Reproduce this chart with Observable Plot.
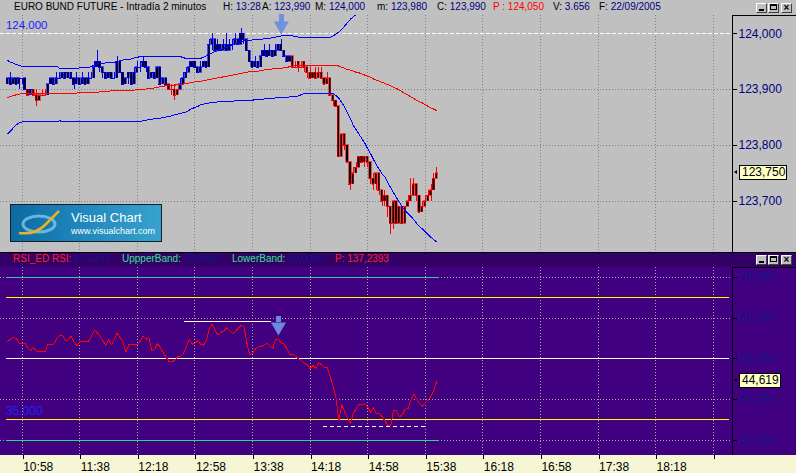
<!DOCTYPE html>
<html>
<head>
<meta charset="utf-8">
<script src="https://cdn.jsdelivr.net/npm/d3@7"></script>
<script src="https://cdn.jsdelivr.net/npm/@observablehq/plot@0.6"></script>
<style>
html,body{margin:0;padding:0;background:#c0c0c0;}
#root{position:relative;width:796px;height:473px;overflow:hidden;background:#c0c0c0;font-family:"Liberation Sans",Arial,sans-serif;}
.a{position:absolute;}
.t{position:absolute;font-size:10px;line-height:10px;white-space:pre;}
.btn{position:absolute;width:11px;height:10px;box-sizing:border-box;background:#c0c0c0;border:1px solid;border-color:#ffffff #404040 #404040 #ffffff;}
.btn .mn{position:absolute;left:2px;top:5px;width:5px;height:2px;background:#000;}
.btn .mx{position:absolute;left:1px;top:0px;width:7px;height:6px;box-sizing:border-box;border:1px solid #000;border-top-width:2px;}
.btn .cl{position:absolute;left:0;top:-1px;width:9px;text-align:center;font:bold 10px/9px "Liberation Sans",Arial,sans-serif;color:#000;}
.vbox{position:absolute;left:739px;height:15px;box-sizing:border-box;border:1px solid #000;background:#ffffc8;font-size:12px;line-height:13px;padding:0 2px;color:#000;white-space:nowrap;}
.varr{position:absolute;left:734px;width:0;height:0;border-top:2.5px solid transparent;border-bottom:2.5px solid transparent;border-right:3px solid #000;}
</style>
</head>
<body>
<div id="root">
  <div class="a" id="topWrap" style="left:0;top:0;"></div>
  <div class="a" style="left:732px;top:15px;width:64px;height:237px;box-sizing:border-box;border-left:1px solid #000;border-top:1px solid #000;"></div>
  <div class="a" style="left:0;top:252px;width:796px;height:1px;background:#000;"></div>
  <div class="a" style="left:0;top:253px;width:796px;height:14px;background:#330068;"></div>
  <div class="a" style="left:0;top:267px;width:796px;height:188px;background:#400080;"></div>
  <div class="a" style="left:0;top:455px;width:796px;height:18px;background:#f6f6d4;"></div>
  <div class="a" style="left:732px;top:267px;width:64px;height:188px;box-sizing:border-box;border-left:1px solid #000;border-top:1px solid #000;"></div>
  <div class="a" id="rsiWrap" style="left:0;top:267px;"></div>
  <div class="btn" style="left:756px;top:3px;"><div class="mn"></div></div>
  <div class="btn" style="left:768px;top:3px;"><div class="mx"></div></div>
  <div class="btn" style="left:781px;top:3px;"><div class="cl">×</div></div>
  <div class="btn" style="left:756px;top:255px;"><div class="mn"></div></div>
  <div class="btn" style="left:768px;top:255px;"><div class="mx"></div></div>
  <div class="btn" style="left:781px;top:255px;"><div class="cl">×</div></div>
  <div class="a" style="left:10px;top:204px;width:152px;height:38px;box-sizing:border-box;border:1px solid #10202a;background:linear-gradient(90deg,#0c6aa2 0%,#1f86bc 45%,#37a2cc 100%);">
    <svg width="60" height="36" style="position:absolute;left:0;top:0;">
      <ellipse cx="28" cy="19" rx="16" ry="8" fill="none" stroke="#7cc8ee" stroke-width="3" opacity="0.8"/>
      <path d="M8 28 Q 24 30 34 20 T 48 6" fill="none" stroke="#f0b020" stroke-width="2.5"/>
    </svg>
    <div class="a" style="left:60px;top:6px;color:#fff;font-size:13px;line-height:13px;white-space:nowrap;">Visual Chart</div>
    <div class="a" style="left:60px;top:22px;color:#fff;font-size:9px;line-height:9px;white-space:nowrap;">www.visualchart.com</div>
  </div>
</div>
<script>
// ---------------- DATA ----------------
const times = [
"10:48","10:50","10:52","10:54","10:56","10:58",
"11:00","11:02","11:04","11:06","11:08","11:10","11:12","11:14","11:16","11:18","11:20","11:22","11:24","11:26","11:28","11:30","11:32","11:34","11:36","11:38","11:40","11:42","11:44","11:46","11:48","11:50","11:52","11:54","11:56","11:58",
"12:00","12:02","12:04","12:06","12:08","12:10","12:12","12:14","12:16","12:18","12:20","12:22","12:24","12:26","12:28","12:30","12:32","12:34","12:36","12:38","12:40","12:42","12:44","12:46","12:48","12:50","12:52","12:54","12:56","12:58",
"13:00","13:02","13:04","13:06","13:08","13:10","13:12","13:14","13:16","13:18","13:20","13:22","13:24","13:26","13:28","13:30","13:32","13:34","13:36","13:38","13:40","13:42","13:44","13:46","13:48","13:50","13:52","13:54","13:56","13:58",
"14:00","14:02","14:04","14:06","14:08","14:10","14:12","14:14","14:16","14:18","14:20","14:22","14:24","14:26","14:28","14:30","14:32","14:34","14:36","14:38","14:40","14:42","14:44","14:46","14:48","14:50","14:52","14:54","14:56","14:58",
"15:00","15:02","15:04","15:06","15:08","15:10","15:12","15:14","15:16","15:18","15:20","15:22","15:24","15:26","15:28","15:30","15:32","15:34","15:36","15:38","15:40","15:42","15:44","15:46"];

const opens = [
123.91,123.92,123.91,123.92,123.91,123.92,123.92,123.90,123.89,123.90,
123.89,123.88,123.89,123.89,123.89,123.91,123.92,123.91,123.92,123.92,
123.93,123.92,123.93,123.92,123.91,123.92,123.91,123.92,123.91,123.92,
123.92,123.94,123.95,123.94,123.93,123.92,123.93,123.92,123.92,123.95,
123.93,123.91,123.92,123.93,123.91,123.93,123.94,123.94,123.95,123.94,
123.92,123.93,123.92,123.94,123.91,123.92,123.91,123.90,123.90,123.89,
123.90,123.91,123.92,123.93,123.94,123.95,123.94,123.93,123.94,123.95,
123.94,123.98,123.99,123.97,123.98,123.97,123.98,123.97,123.98,123.98,
123.99,123.98,124.00,123.99,123.97,123.95,123.94,123.95,123.94,123.96,
123.97,123.96,123.97,123.96,123.97,123.98,123.97,123.96,123.95,123.96,
123.94,123.95,123.94,123.95,123.94,123.93,123.92,123.93,123.92,123.93,
123.92,123.91,123.92,123.89,123.88,123.87,123.78,123.82,123.80,123.77,
123.73,123.75,123.76,123.78,123.77,123.78,123.77,123.74,123.73,123.75,
123.72,123.70,123.71,123.69,123.66,123.70,123.66,123.69,123.66,123.69,
123.70,123.71,123.73,123.71,123.68,123.69,123.70,123.71,123.72,123.74];

const highs = [
123.92,123.93,123.92,123.92,123.92,123.92,123.92,123.90,123.90,123.90,
123.90,123.89,123.90,123.90,123.91,123.92,123.92,123.93,123.93,123.93,
123.93,123.93,123.93,123.92,123.93,123.92,123.93,123.92,123.93,123.93,
123.95,123.97,123.95,123.94,123.93,123.93,123.93,123.93,123.96,123.95,
123.93,123.92,123.93,123.93,123.94,123.95,123.95,123.96,123.95,123.94,
123.93,123.93,123.94,123.94,123.92,123.92,123.91,123.91,123.91,123.90,
123.92,123.93,123.94,123.95,123.95,123.95,123.94,123.95,123.95,123.95,
123.99,124.00,123.99,123.99,123.98,123.99,124.00,123.99,123.99,124.00,
123.99,124.01,124.00,123.99,123.97,123.95,123.96,123.95,123.97,123.98,
123.97,123.98,123.97,123.98,123.98,123.99,123.97,123.96,123.96,123.96,
123.95,123.95,123.95,123.95,123.94,123.94,123.93,123.94,123.94,123.94,
123.92,123.93,123.92,123.89,123.88,123.87,123.82,123.82,123.80,123.77,
123.76,123.77,123.78,123.78,123.78,123.78,123.77,123.75,123.75,123.75,
123.72,123.72,123.71,123.69,123.70,123.70,123.69,123.69,123.69,123.71,
123.74,123.74,123.73,123.71,123.70,123.71,123.72,123.73,123.75,123.76];

const lows = [
123.91,123.91,123.91,123.91,123.90,123.91,123.90,123.89,123.89,123.89,
123.87,123.88,123.89,123.89,123.89,123.91,123.91,123.91,123.92,123.92,
123.92,123.92,123.92,123.90,123.91,123.91,123.91,123.91,123.91,123.92,
123.92,123.94,123.93,123.92,123.92,123.92,123.92,123.92,123.92,123.93,
123.91,123.91,123.91,123.91,123.91,123.93,123.93,123.94,123.93,123.92,
123.92,123.92,123.92,123.91,123.91,123.91,123.90,123.89,123.88,123.89,
123.90,123.91,123.92,123.93,123.94,123.94,123.93,123.93,123.94,123.94,
123.94,123.97,123.97,123.97,123.97,123.97,123.97,123.97,123.97,123.98,
123.98,123.98,123.98,123.97,123.95,123.94,123.94,123.94,123.94,123.96,
123.96,123.96,123.96,123.96,123.97,123.97,123.96,123.95,123.95,123.94,
123.94,123.93,123.94,123.93,123.92,123.92,123.92,123.92,123.92,123.92,
123.91,123.91,123.89,123.87,123.87,123.78,123.78,123.79,123.77,123.72,
123.73,123.75,123.76,123.77,123.76,123.76,123.73,123.72,123.72,123.71,
123.69,123.69,123.67,123.64,123.65,123.66,123.66,123.66,123.66,123.69,
123.70,123.71,123.70,123.68,123.68,123.69,123.70,123.70,123.72,123.74];

const closes = [
123.92,123.91,123.92,123.91,123.92,123.92,123.90,123.89,123.90,123.89,
123.88,123.89,123.89,123.89,123.91,123.92,123.91,123.92,123.92,123.93,
123.92,123.93,123.92,123.91,123.92,123.91,123.92,123.91,123.92,123.92,
123.94,123.95,123.94,123.93,123.92,123.93,123.92,123.92,123.95,123.93,
123.91,123.92,123.93,123.91,123.93,123.94,123.94,123.95,123.94,123.92,
123.93,123.92,123.94,123.91,123.92,123.91,123.90,123.90,123.89,123.90,
123.91,123.92,123.93,123.94,123.95,123.94,123.93,123.94,123.95,123.94,
123.98,123.99,123.97,123.98,123.97,123.98,123.97,123.98,123.98,123.99,
123.98,124.00,123.99,123.97,123.95,123.94,123.95,123.94,123.96,123.97,
123.96,123.97,123.96,123.97,123.98,123.97,123.96,123.95,123.96,123.94,
123.94,123.94,123.94,123.94,123.93,123.92,123.93,123.92,123.93,123.92,
123.91,123.92,123.89,123.88,123.87,123.78,123.82,123.80,123.77,123.73,
123.75,123.76,123.78,123.77,123.78,123.77,123.74,123.73,123.75,123.72,
123.70,123.71,123.69,123.66,123.70,123.66,123.69,123.66,123.69,123.70,
123.71,123.73,123.71,123.68,123.69,123.70,123.71,123.72,123.74,123.75];

const movingAverage = [
123.886,123.888,123.889,123.891,123.892,123.893,123.893,123.893,123.893,123.893,
123.893,123.893,123.893,123.893,123.893,123.893,123.893,123.893,123.893,123.893,
123.893,123.893,123.893,123.893,123.894,123.894,123.894,123.894,123.894,123.895,
123.895,123.895,123.896,123.896,123.897,123.897,123.898,123.898,123.899,123.899,
123.899,123.899,123.899,123.899,123.899,123.900,123.900,123.901,123.901,123.902,
123.902,123.903,123.904,123.905,123.906,123.907,123.907,123.908,123.908,123.909,
123.909,123.910,123.911,123.912,123.913,123.914,123.914,123.915,123.916,123.917,
123.918,123.919,123.920,123.921,123.922,123.923,123.924,123.925,123.926,123.927,
123.928,123.929,123.930,123.931,123.932,123.932,123.933,123.933,123.934,123.935,
123.936,123.936,123.937,123.937,123.938,123.938,123.939,123.940,123.941,123.942,
123.943,123.944,123.944,123.944,123.944,123.944,123.944,123.944,123.944,123.944,
123.944,123.944,123.944,123.944,123.944,123.942,123.940,123.938,123.936,123.935,
123.933,123.931,123.930,123.928,123.926,123.924,123.922,123.919,123.917,123.915,
123.913,123.911,123.909,123.907,123.904,123.902,123.899,123.896,123.893,123.890,
123.887,123.884,123.881,123.878,123.876,123.873,123.870,123.867,123.865,123.862];

const upperBand = [
123.952,123.949,123.947,123.945,123.943,123.942,123.942,123.942,123.942,123.942,
123.942,123.942,123.942,123.942,123.942,123.942,123.942,123.942,123.938,123.938,
123.938,123.938,123.938,123.938,123.938,123.939,123.940,123.940,123.940,123.941,
123.944,123.946,123.947,123.947,123.948,123.948,123.948,123.949,123.950,123.952,
123.953,123.954,123.954,123.955,123.957,123.958,123.959,123.960,123.960,123.960,
123.960,123.960,123.960,123.960,123.960,123.960,123.960,123.960,123.960,123.960,
123.959,123.957,123.956,123.955,123.955,123.955,123.955,123.956,123.958,123.961,
123.964,123.966,123.968,123.970,123.972,123.974,123.976,123.978,123.980,123.982,
123.984,123.986,123.987,123.988,123.988,123.989,123.989,123.990,123.990,123.991,
123.991,123.992,123.993,123.994,123.995,123.996,123.997,123.997,123.997,123.996,
123.995,123.994,123.994,123.994,123.994,123.994,123.994,123.994,123.994,123.994,
123.994,123.994,123.994,123.996,124.000,124.003,124.008,124.014,124.020,124.026,
124.031,124.034,124.040,124.044,124.048,124.054,124.059,124.063,124.069,124.073,
124.077,124.079,124.085,124.090,124.093,124.098,124.100,124.102,124.103,124.102,
124.101,124.101,124.102,124.101,124.102,124.101,124.100,124.099,124.099,124.097];

const lowerBand = [
123.821,123.826,123.832,123.837,123.841,123.842,123.843,123.843,123.843,123.843,
123.843,123.843,123.843,123.843,123.843,123.843,123.843,123.843,123.844,123.843,
123.843,123.843,123.843,123.843,123.843,123.843,123.843,123.843,123.843,123.843,
123.843,123.843,123.843,123.843,123.843,123.843,123.843,123.843,123.843,123.843,
123.843,123.843,123.843,123.843,123.843,123.843,123.843,123.844,123.845,123.846,
123.847,123.848,123.848,123.849,123.850,123.851,123.852,123.853,123.855,123.856,
123.857,123.859,123.860,123.863,123.866,123.868,123.870,123.873,123.874,123.875,
123.876,123.877,123.877,123.878,123.878,123.878,123.879,123.879,123.879,123.880,
123.880,123.880,123.880,123.881,123.881,123.881,123.882,123.882,123.883,123.883,
123.884,123.884,123.884,123.885,123.885,123.886,123.886,123.886,123.887,123.887,
123.887,123.889,123.891,123.893,123.893,123.893,123.893,123.893,123.893,123.893,
123.893,123.893,123.893,123.893,123.889,123.884,123.877,123.868,123.858,123.848,
123.836,123.828,123.820,123.812,123.804,123.794,123.785,123.775,123.765,123.757,
123.749,123.743,123.733,123.724,123.715,123.706,123.698,123.690,123.683,123.678,
123.673,123.667,123.660,123.655,123.650,123.645,123.640,123.635,123.631,123.627];

const rsiValues = [
54.3,54.8,55.2,55.0,53.8,53.8,53.8,52.6,52.0,52.8,
51.7,51.7,51.7,51.7,53.6,53.6,53.6,55.0,55.8,55.8,
54.4,54.6,55.6,54.2,53.2,54.2,54.2,54.2,54.2,55.5,
57.0,56.5,55.6,54.5,53.3,54.7,53.4,54.8,56.3,55.2,
54.2,51.7,53.4,53.4,53.4,53.4,54.3,55.5,54.8,55.2,
52.0,52.3,53.8,52.7,51.5,50.4,49.3,49.3,49.6,50.5,
50.6,51.3,53.0,54.8,53.6,53.8,54.4,53.6,53.3,54.5,
57.5,58.5,57.0,55.8,56.5,56.8,57.6,57.0,56.3,56.6,
57.5,58.2,58.0,54.0,51.0,51.3,52.4,52.9,52.9,53.4,
53.8,53.2,52.5,54.8,54.8,53.8,53.6,52.3,51.1,51.1,
50.6,50.0,49.6,48.9,48.6,47.6,48.4,47.7,49.0,48.5,
47.9,47.8,45.5,43.2,40.3,34.8,38.8,37.0,35.4,34.2,
36.6,37.8,38.9,38.7,39.0,38.2,36.8,38.0,36.5,36.6,
35.8,34.8,33.6,33.6,37.4,37.2,35.8,36.2,37.6,37.8,
39.8,41.3,40.2,39.0,38.3,39.3,39.9,40.8,42.2,44.6];

const xTickTimes = ["10:58","11:38","12:18","12:58","13:38","14:18","14:58","15:38","16:18","16:58","17:38","18:18","18:58"];
const priceTicks = [123.7, 123.8, 123.9, 124.0];
const rsiTicks = [30, 40, 50, 60, 70];
const rsiGridLevels = [30, 40, 60, 70];
const priceLevel = [{time: "10:46", value: 124.0, label: "124.000"}];
const rsiLevelLabel = [{time: "10:46", value: 35, label: "35.000"}];
const rsiYellowLevels = [65, 35];
const rsiWhiteLevel = [50];
const rsiLevelSpan = {from: "10:47", to: "19:09"};
const rsiUpperBand = [70];
const rsiLowerBand = [30];
const rsiBandSpan = {from: "10:47", to: "15:48"};
const topArrow = [{time: "13:58", tail: 124.0345, neck: 124.021, head: 124.0143}];
const rsiArrow = [{time: "13:56", tail: 60.5, neck: 58.8, head: 57.85}];
const rsiSolidLine = [{from: "12:51", to: "13:51", value: 59.2}];
const rsiDashedLine = [{from: "14:27", to: "15:40", value: 33.3}];
const lastPriceLabel = "123,750";
const lastRsiLabel = "44,619";
const lastRsi = 44.619;

// title groups: [x, [text, colour], [text, colour], ...]
const titleGroups = [
  [14, ["EURO BUND FUTURE - Intradía 2 minutos", "#000000"]],
  [223, ["H: ", "#000000"], ["13:28", "#000080"]],
  [262, ["A: ", "#000000"], ["123,990", "#000080"]],
  [315, ["M: ", "#000000"], ["124,000", "#000080"]],
  [377, ["m: ", "#000000"], ["123,980", "#000080"]],
  [437, ["C: ", "#000000"], ["123,990", "#000080"]],
  [493, ["P : 124,050", "#ff0000"]],
  [553, ["V: ", "#000000"], ["3.656", "#000080"]],
  [599, ["F: ", "#000000"], ["22/09/2005", "#000080"]]
];
const rsiHeaderGroups = [
  [13, ["RSI_ED RSI: ", "#ff2020"], ["57,4197", "#14148e"]],
  [122, ["UppperBand: ", "#30e090"], ["70,0000", "#14148e"]],
  [232, ["LowerBand: ", "#30e090"], ["30,0000", "#14148e"]],
  [335, ["P: 137,2393", "#ff2020"]]
];

// ---------------- BUILD ----------------
const hm = s => { const p = s.split(":"); return (+p[0]) * 60 + (+p[1]); };
const fmtHM = t => Math.floor(t / 60) + ":" + String(t % 60).padStart(2, "0");
const bars = times.map((s, i) => ({
  t: hm(s), o: opens[i], h: highs[i], l: lows[i], c: closes[i],
  ma: movingAverage[i], up: upperBand[i], lo: lowerBand[i], rsi: rsiValues[i]
}));
const barColor = d => d.c < d.ma ? "#ff0000" : "#0000ff";
const tickMins = xTickTimes.map(hm);
const lastTick = tickMins[tickMins.length - 1];
const xScale = {type: "linear", domain: [hm("10:58"), hm("18:58")], range: [21.7, 712.7], label: null};
const fontFamily = "'Liberation Sans', Arial, sans-serif";
const crisp = {shapeRendering: "crispEdges"};
const mkArrow = a => a.map(d => ({...d, t: hm(d.time)}));
const mkSpan = arr => arr.map(d => ({...d, t1: hm(d.from), t2: hm(d.to)}));

const topChart = Plot.plot({
  width: 796, height: 252,
  marginLeft: 0, marginRight: 64, marginTop: 15, marginBottom: 2,
  style: {background: "transparent", fontFamily, fontSize: "12px", overflow: "visible"},
  x: {...xScale, axis: null},
  y: {domain: [123.7, 124.0], range: [200.7, 33.3], label: null, axis: null},
  marks: [
    Plot.ruleX(tickMins, {stroke: "#808080", strokeDasharray: "1,2", ...crisp}),
    Plot.ruleY(priceTicks.filter(v => v !== 124.0), {stroke: "#808080", strokeDasharray: "1,2", ...crisp}),
    Plot.ruleY(priceLevel, {y: "value", stroke: "#ffffff", strokeDasharray: "4,2", ...crisp}),
    Plot.ruleX(bars, {x: "t", y1: "l", y2: "h", stroke: barColor, strokeWidth: 1, ...crisp}),
    Plot.rect(bars, {x1: d => d.t - 0.75, x2: d => d.t + 0.75, y1: "o", y2: "c", fill: "#000000", stroke: barColor, strokeWidth: 0.6, ...crisp}),
    Plot.ruleY(bars, {y: "c", x1: d => d.t - 1, x2: d => d.t + 1, stroke: barColor, strokeWidth: 1, ...crisp}),
    Plot.lineY(bars, {x: "t", y: "ma", stroke: "#ff0000", strokeWidth: 1, clip: true, ...crisp}),
    Plot.lineY(bars, {x: "t", y: "up", stroke: "#0000ff", strokeWidth: 1, clip: true, ...crisp}),
    Plot.lineY(bars, {x: "t", y: "lo", stroke: "#0000ff", strokeWidth: 1, clip: true, ...crisp}),
    Plot.ruleX(mkArrow(topArrow), {x: "t", y1: "tail", y2: "neck", stroke: "#7090e0", strokeWidth: 5, ...crisp}),
    Plot.dot(mkArrow(topArrow), {x: "t", y: "head", symbol: "triangle", rotate: 180, r: 5.6, fill: "#7090e0", stroke: null}),
    Plot.text(priceLevel.map(d => ({...d, t: hm(d.time)})), {x: "t", y: "value", text: "label", textAnchor: "start", dx: 1, dy: -8, fill: "#1a1aff", fontSize: 11.5}),
    Plot.axisY(priceTicks, {anchor: "right", tickSize: 4, tickPadding: 2, fontSize: 12, fill: "#000080", stroke: "#000000",
      tickFormat: d => d.toFixed(3).replace(".", ","), label: null, ...crisp})
  ]
});
document.getElementById("topWrap").appendChild(topChart);

const rsiChart = Plot.plot({
  width: 796, height: 206,
  marginLeft: 0, marginRight: 64, marginTop: 0, marginBottom: 18,
  style: {background: "transparent", fontFamily, fontSize: "12px", overflow: "visible"},
  x: {...xScale},
  y: {domain: [30, 70], range: [172.8, 9.8], label: null, axis: null},
  marks: [
    Plot.ruleX(tickMins, {stroke: "#a8a8a8", strokeDasharray: "1,2", ...crisp}),
    Plot.ruleY(rsiGridLevels, {stroke: "#a8a8a8", strokeDasharray: "1,2", ...crisp}),
    Plot.ruleY(rsiYellowLevels, {y: d => d, x1: hm(rsiLevelSpan.from), x2: hm(rsiLevelSpan.to), stroke: "yellow", strokeWidth: 1, ...crisp}),
    Plot.ruleY(rsiWhiteLevel, {y: d => d, x1: hm(rsiLevelSpan.from), x2: hm(rsiLevelSpan.to), stroke: "#ffffff", strokeWidth: 1, ...crisp}),
    Plot.ruleY(rsiUpperBand, {y: d => d, x1: hm(rsiBandSpan.from), x2: hm(rsiBandSpan.to), stroke: "#3cc8a8", strokeWidth: 1, ...crisp}),
    Plot.ruleY(rsiLowerBand, {y: d => d, x1: hm(rsiBandSpan.from), x2: hm(rsiBandSpan.to), stroke: "#20e080", strokeWidth: 1, ...crisp}),
    Plot.lineY(bars, {x: "t", y: "rsi", stroke: "#ff0000", strokeWidth: 1, ...crisp}),
    Plot.ruleY(mkSpan(rsiSolidLine), {y: "value", x1: "t1", x2: "t2", stroke: "#ffffff", strokeWidth: 1, ...crisp}),
    Plot.ruleY(mkSpan(rsiDashedLine), {y: "value", x1: "t1", x2: "t2", stroke: "#ffffff", strokeWidth: 1, strokeDasharray: "4,3", ...crisp}),
    Plot.ruleX(mkArrow(rsiArrow), {x: "t", y1: "tail", y2: "neck", stroke: "#6c88dc", strokeWidth: 5, ...crisp}),
    Plot.dot(mkArrow(rsiArrow), {x: "t", y: "head", symbol: "triangle", rotate: 180, r: 5.6, fill: "#6c88dc", stroke: null}),
    Plot.text(rsiLevelLabel.map(d => ({...d, t: hm(d.time)})), {x: "t", y: "value", text: "label", textAnchor: "start", dx: 1, dy: -9, fill: "#2020ff", fontSize: 12}),
    Plot.axisY(rsiTicks, {anchor: "right", tickSize: 4, tickPadding: 2, fontSize: 12, fill: "#14148c", stroke: "#000000",
      tickFormat: d => d.toFixed(3).replace(".", ","), label: null, ...crisp}),
    Plot.axisX(tickMins, {anchor: "bottom", tickSize: 4, tickPadding: 3, fontSize: 12, fill: "#000000", stroke: "#000000",
      textAnchor: "start", dx: 1, tickFormat: t => t >= lastTick ? "" : fmtHM(t), label: null, ...crisp})
  ]
});
document.getElementById("rsiWrap").appendChild(rsiChart);

// ---------------- TEXT OVERLAYS ----------------
const root = document.getElementById("root");
function addGroup(group, top) {
  const [x, ...parts] = group;
  const s = document.createElement("span");
  s.className = "t"; s.style.left = x + "px"; s.style.top = top + "px";
  parts.forEach(([txt, c]) => {
    const p = document.createElement("span");
    p.textContent = txt; p.style.color = c; s.appendChild(p);
  });
  root.appendChild(s);
}
titleGroups.forEach(g => addGroup(g, 1.6));
rsiHeaderGroups.forEach(g => addGroup(g, 254.2));

function scaleY(chart, domain, range) {
  try { const s = chart.scale("y"); if (s && s.apply) return v => s.apply(v); } catch (e) {}
  const f = d3.scaleLinear(domain, range); return v => f(v);
}
function valueBox(label, yCenter, width) {
  const b = document.createElement("div");
  b.className = "vbox"; b.textContent = label;
  b.style.top = (yCenter - 7.5) + "px"; b.style.width = width + "px";
  root.appendChild(b);
  const a = document.createElement("div");
  a.className = "varr"; a.style.top = (yCenter - 2.5) + "px";
  root.appendChild(a);
}
const topY = scaleY(topChart, [123.7, 124.0], [200.7, 33.3]);
const rsiY = scaleY(rsiChart, [30, 70], [172.8, 9.8]);
valueBox(lastPriceLabel, topY(closes[closes.length - 1]), 48);
valueBox(lastRsiLabel, 267 + rsiY(lastRsi), 42);
</script>
</body>
</html>
